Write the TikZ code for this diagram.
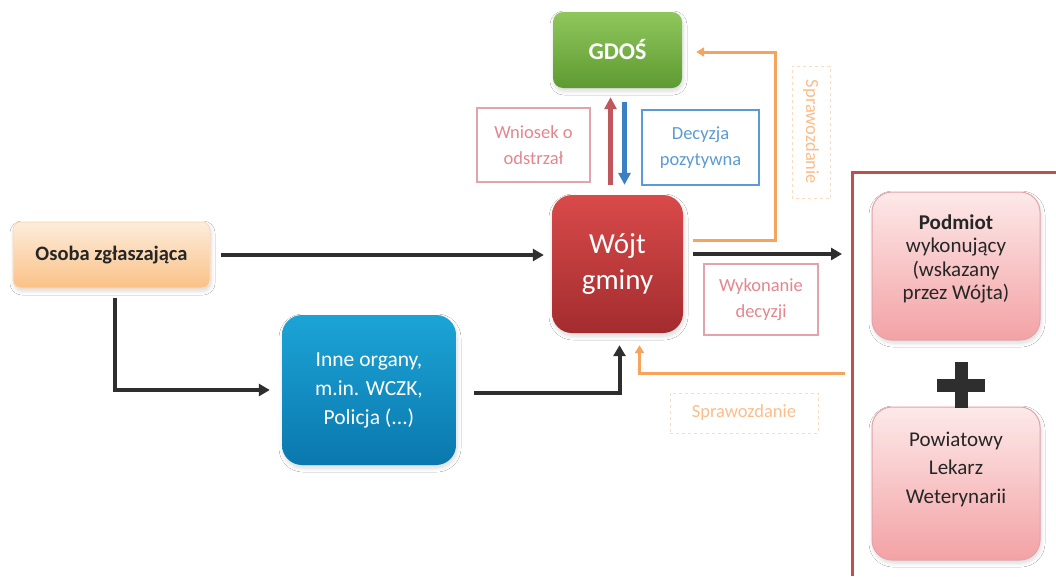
\documentclass[tikz,border=0pt]{standalone}
\usepackage{fontspec}
\setmainfont{Carlito}
\usetikzlibrary{arrows.meta,shadows.blur}
\definecolor{darkarr}{HTML}{2E2E2E}
\definecolor{orng}{HTML}{F6A35E}
\definecolor{framered}{HTML}{C0504D}
\definecolor{gtop}{HTML}{8FC75C}
\definecolor{gbot}{HTML}{5E9A32}
\definecolor{rtop}{HTML}{D94A4A}
\definecolor{rbot}{HTML}{A32C2E}
\definecolor{btop}{HTML}{1CA4D6}
\definecolor{bbot}{HTML}{0A78AE}
\definecolor{otop}{HTML}{FDEDDC}
\definecolor{obot}{HTML}{FAC186}
\definecolor{ptop}{HTML}{FDE9E9}
\definecolor{pbot}{HTML}{F3A2A5}
\definecolor{pinktxt}{HTML}{E3868E}
\definecolor{pinkbrd}{HTML}{E2A3AA}
\definecolor{bluetxt}{HTML}{5B9BD5}
\definecolor{lorng}{HTML}{FBBE8A}
\definecolor{lorngbrd}{HTML}{FCDCC0}
\definecolor{redarr}{HTML}{C0575C}
\definecolor{bluearr}{HTML}{3A80C2}
\definecolor{txtdark}{HTML}{262626}
\begin{document}
\begin{tikzpicture}[x=1pt,y=-1pt,
  box/.style={rounded corners=16pt, align=center, inner sep=0pt,
    blur shadow={shadow blur steps=6, shadow xshift=1pt, shadow yshift=-3pt, shadow opacity=15, shadow blur radius=4pt}},
  lbl/.style={draw, line width=1.2pt, align=center, inner sep=0pt, font=\fontsize{18.5}{26}\selectfont},
  blk/.style={draw=darkarr, line width=4pt, -{Triangle[length=11pt,width=12pt]}},
  org/.style={draw=orng, line width=3pt, -{Triangle[length=8pt,width=9pt]}}]
\useasboundingbox[fill=white] (0,0) rectangle (1056,576);
% nodes
\node[box, rounded corners=10pt, top color=gtop, bottom color=gbot, minimum width=129pt, minimum height=76pt,
  text=white, font=\fontsize{24}{28}\selectfont\bfseries] (gdos) at (617.5,50) {GDOŚ};
\node[box, rounded corners=20pt, top color=rtop, bottom color=rbot, minimum width=131pt, minimum height=138pt,
  text=white, font=\fontsize{29}{36}\selectfont] (wojt) at (617.5,264) {Wójt\\gminy};
\node[box, rounded corners=8pt, draw=lorngbrd, line width=1pt, top color=otop, bottom color=obot, minimum width=197pt, minimum height=66pt,
  text=txtdark, font=\fontsize{20.5}{22}\selectfont\bfseries] (osoba) at (111.5,255) {Osoba zgłaszająca};
\node[box, rounded corners=20pt, top color=btop, bottom color=bbot, minimum width=174pt, minimum height=150pt,
  text=white, font=\fontsize{21.5}{29}\selectfont] (inne) at (369,390) {Inne organy,\\m.in. WCZK,\\Policja (...)};
\node[box, rounded corners=20pt, draw=pinkbrd, line width=1pt, top color=ptop, bottom color=pbot, minimum width=168pt, minimum height=148pt] (podmiot) at (956,266) {};
\node[align=center, inner sep=0pt, text=txtdark, font=\fontsize{21}{23.5}\selectfont] (podmiotTxt) at (956,259) {\textbf{Podmiot}\\wykonujący\\(wskazany\\przez Wójta)};
\node[box, rounded corners=20pt, draw=pinkbrd, line width=1pt, top color=ptop, bottom color=pbot, minimum width=168pt, minimum height=153pt] (powiat) at (956,483.5) {};
\node[align=center, inner sep=0pt, text=txtdark, font=\fontsize{21}{28.5}\selectfont] (powiatTxt) at (956,469) {Powiatowy\\Lekarz\\Weterynarii};
\node[lbl, draw=pinkbrd, text=pinktxt, minimum width=113pt, minimum height=74pt] (wniosek) at (533.5,145) {Wniosek o\\odstrzał};
\node[lbl, draw=bluetxt, text=bluetxt, minimum width=117pt, minimum height=75pt] (decyzja) at (700.5,147.5) {Decyzja\\pozytywna};
\node[lbl, draw=pinkbrd, text=pinktxt, minimum width=114pt, minimum height=71pt] (wykon) at (761,299.5) {Wykonanie\\decyzji};
\node[lbl, draw=lorngbrd, dashed, line width=1pt, text=lorng, minimum width=132pt, minimum height=38pt, rotate=-90] (spr1) at (811,132) {Sprawozdanie};
\node[lbl, draw=lorngbrd, dashed, line width=1pt, text=lorng, minimum width=148pt, minimum height=40pt] (spr2) at (744,413) {Sprawozdanie};
% plus sign
\node[fill=darkarr, minimum width=48pt, minimum height=13pt, inner sep=0pt] (plush) at (961,385) {};
\node[fill=darkarr, minimum width=13pt, minimum height=46pt, inner sep=0pt] (plusv) at (961,385) {};
% frame
\coordinate (frameTL) at (852,172);
\draw[framered, line width=3pt] (852,576) -- (frameTL) -- (1056,172);
% connectors
\draw[blk] ([xshift=10pt]osoba.east) -- ([xshift=-8pt]osoba.east -| wojt.west);
\draw[blk] ([xshift=3pt,yshift=-9pt]osoba.south) |- ([xshift=-12pt]inne.west);
\draw[blk] ([xshift=18pt,yshift=-3pt]inne.east) -| ([xshift=2pt,yshift=-12pt]wojt.south);
\draw[blk] ([xshift=10pt,yshift=10pt]wojt.east) -- ([xshift=-10pt,yshift=10pt]wojt.east -| frameTL);
\draw[draw=redarr, line width=5pt, -{Triangle[length=12pt,width=12pt]}] ([xshift=-7pt,yshift=10pt]wojt.north) -- ([xshift=-7pt,yshift=-9pt]gdos.south);
\draw[draw=bluearr, line width=5pt, -{Triangle[length=12pt,width=12pt]}] ([xshift=7pt,yshift=-14pt]gdos.south) -- ([xshift=7pt,yshift=10pt]wojt.north);
\draw[org] ([xshift=10pt,yshift=24pt]wojt.east) -- ++(82,0) |- ([xshift=14pt,yshift=-2pt]gdos.east);
\coordinate (sprIn) at (845,373);
\draw[org] (sprIn) -| ([xshift=22pt,yshift=-12pt]wojt.south);
\end{tikzpicture}
\end{document}
